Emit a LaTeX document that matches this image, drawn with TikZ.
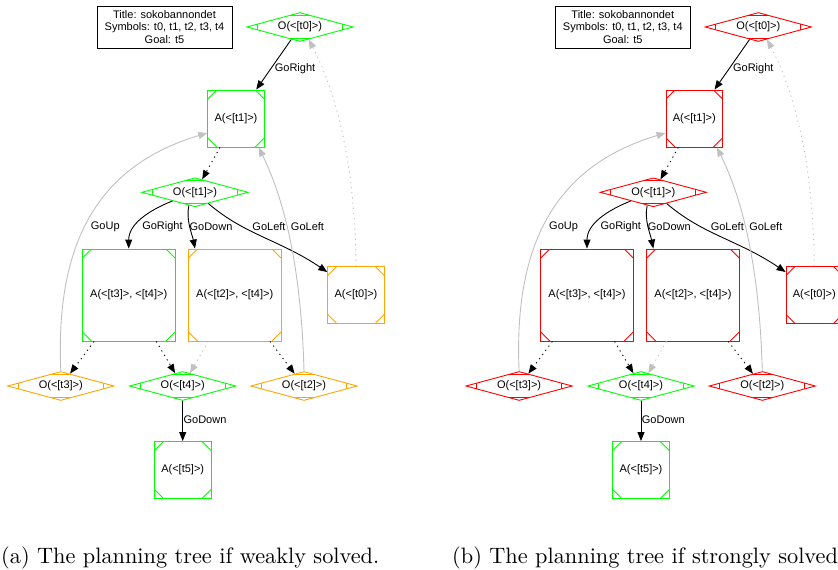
\documentclass[tikz,border=0pt]{standalone}
\usepackage{fontspec}
\newfontfamily\gvfont{Liberation Sans}
\newfontfamily\capfont{lmroman10-regular}[Extension=.otf]
\usetikzlibrary{shapes.geometric,arrows.meta,calc}

\definecolor{gvgreen}{HTML}{00FF00}
\definecolor{gvorange}{HTML}{FFA500}
\definecolor{gvred}{HTML}{FF0000}
\definecolor{gvgrey}{HTML}{C0C0C0}

\tikzset{
  base/.style={font=\gvfont\fontsize{11}{12.5}\selectfont, inner sep=0pt},
  lbl/.style={base},
  titlebox/.style={base, draw=black, line width=0.9pt, minimum width=135pt,
    minimum height=42pt, align=center},
  % OR-node: diamond with short bars across each vertex
  obox/.style={base, diamond, aspect=4.5, draw=#1, line width=0.9pt,
    minimum width=106.5pt, minimum height=29pt,
    path picture={
      \path (path picture bounding box.north) coordinate (pn)
            (path picture bounding box.south) coordinate (ps)
            (path picture bounding box.east)  coordinate (pe)
            (path picture bounding box.west)  coordinate (pw);
      \draw[draw=#1, line width=0.9pt]
        ($(pn)!0.2!(pe)$) -- ($(pn)!0.2!(pw)$)
        ($(ps)!0.2!(pe)$) -- ($(ps)!0.2!(pw)$)
        ($(pe)!0.2!(pn)$) -- ($(pe)!0.2!(ps)$)
        ($(pw)!0.2!(pn)$) -- ($(pw)!0.2!(ps)$);
    }},
  % AND-node: square with its corners cut by diagonals
  abox/.style={base, rectangle, draw=#1, line width=0.9pt,
    path picture={
      \path (path picture bounding box.north west) coordinate (qa)
            (path picture bounding box.north east) coordinate (qb)
            (path picture bounding box.south west) coordinate (qc)
            (path picture bounding box.south east) coordinate (qd);
      \draw[draw=#1, line width=0.9pt]
        ($(qa)+(9,0)$) -- ($(qa)+(0,9)$)
        ($(qb)+(-9,0)$) -- ($(qb)+(0,9)$)
        ($(qc)+(9,0)$) -- ($(qc)+(0,-9)$)
        ($(qd)+(-9,0)$) -- ($(qd)+(0,-9)$);
    }},
  smallbox/.style={minimum width=56.5pt, minimum height=57pt},
  bigbox/.style={minimum width=92.5pt, minimum height=92pt},
  edge/.style={draw=black, line width=0.9pt, -{Triangle[length=9pt,width=7pt]}},
  dotedge/.style={edge, dash pattern=on 1.2pt off 4pt},
  greyedge/.style={edge, draw=gvgrey},
  greydot/.style={greyedge, dash pattern=on 1.2pt off 4pt},
  caption/.style={anchor=base west, inner sep=0pt, font=\capfont\fontsize{22.3}{26}\selectfont}
}

% One planning tree: #1 name prefix, #2 horizontal shift,
% #3 colour of the t0/t1/t3-t4 chain, #4 colour of the remaining nodes
\newcommand\plantree[4]{%
\begin{scope}[xshift=#2pt]
  \node[titlebox] (#1title) at (164.5,27) {Title: sokobannondet\\Symbols: t0, t1, t2, t3, t4\\Goal: t5};
  \node[obox=#3] (#1Ot0) at (300,27) {O(<[t0]>)};
  \node[abox=#3, smallbox] (#1At1) at (236,118.5) {A(<[t1]>)};
  \node[obox=#3] (#1Ot1) at (195,192.3) {O(<[t1]>)};
  \node[abox=#3, bigbox] (#1At34) at (128.7,295) {A(<[t3]>, <[t4]>)};
  \node[abox=#4, bigbox] (#1At24) at (234.7,295) {A(<[t2]>, <[t4]>)};
  \node[abox=#4, smallbox] (#1At0) at (356,295) {A(<[t0]>)};
  \node[obox=#4] (#1Ot3) at (60.8,386) {O(<[t3]>)};
  \node[obox=gvgreen] (#1Ot4) at (182.7,386) {O(<[t4]>)};
  \node[obox=#4] (#1Ot2) at (304,386) {O(<[t2]>)};
  \node[abox=gvgreen, smallbox] (#1At5) at (182.7,470) {A(<[t5]>)};

  % actions
  \draw[edge] (#1Ot0) -- (#1At1);
  \draw[edge] (#1Ot1.201) .. controls +(-25,10) and +(0,-24) .. (#1At34.north);
  \draw[edge] (#1Ot1.245) .. controls +(-3,15) and +(-3,-15) .. ($(#1At24.north west)+(7,0)$);
  \draw[edge] (#1Ot1.320) .. controls (245,235) and (280,240) .. ($(#1At0.north west)+(0,6)$);
  \draw[edge] (#1Ot4) -- (#1At5);

  % outcomes
  \draw[dotedge] (#1At1) -- (#1Ot1);
  \draw[dotedge] (#1At34) -- (#1Ot3);
  \draw[dotedge] (#1At34) -- (#1Ot4);
  \draw[greydot] (#1At24) -- (#1Ot4);
  \draw[dotedge] (#1At24) -- (#1Ot2);

  % loops back to visited states
  \draw[greyedge] (#1Ot3.north) .. controls (55,240) and (100,165) .. ($(#1At1.west)+(0,14.5)$);
  \draw[greyedge] (#1Ot2.north) .. controls (301,260) and (282,195) .. ($(#1At1.south east)+(-6,0)$);
  \draw[greydot] (#1At0.north) .. controls (355,160) and (335,90) .. (#1Ot0.305);

  % action labels
  \node[lbl] (#1l1) at (295,69) {GoRight};
  \node[lbl] (#1l2) at (162.5,227) {GoRight};
  \node[lbl] (#1l3) at (211,227) {GoDown};
  \node[lbl] (#1l4) at (269,227) {GoLeft};
  \node[lbl] (#1l5) at (307.5,227) {GoLeft};
  \node[lbl] (#1l6) at (105.3,227) {GoUp};
  \node[lbl] (#1l7) at (205,420) {GoDown};
\end{scope}}

\begin{document}
\begin{tikzpicture}[x=1pt, y=-1pt]
  \useasboundingbox (0,0) rectangle (838,570);
  \plantree{a}{0}{gvgreen}{gvorange}
  \plantree{b}{458.3}{gvred}{gvred}
  \node[caption] (capa) at (1,563) {(a) The planning tree if weakly solved.};
  \node[caption] (capb) at (452,563) {(b) The planning tree if strongly solved.};
\end{tikzpicture}
\end{document}
